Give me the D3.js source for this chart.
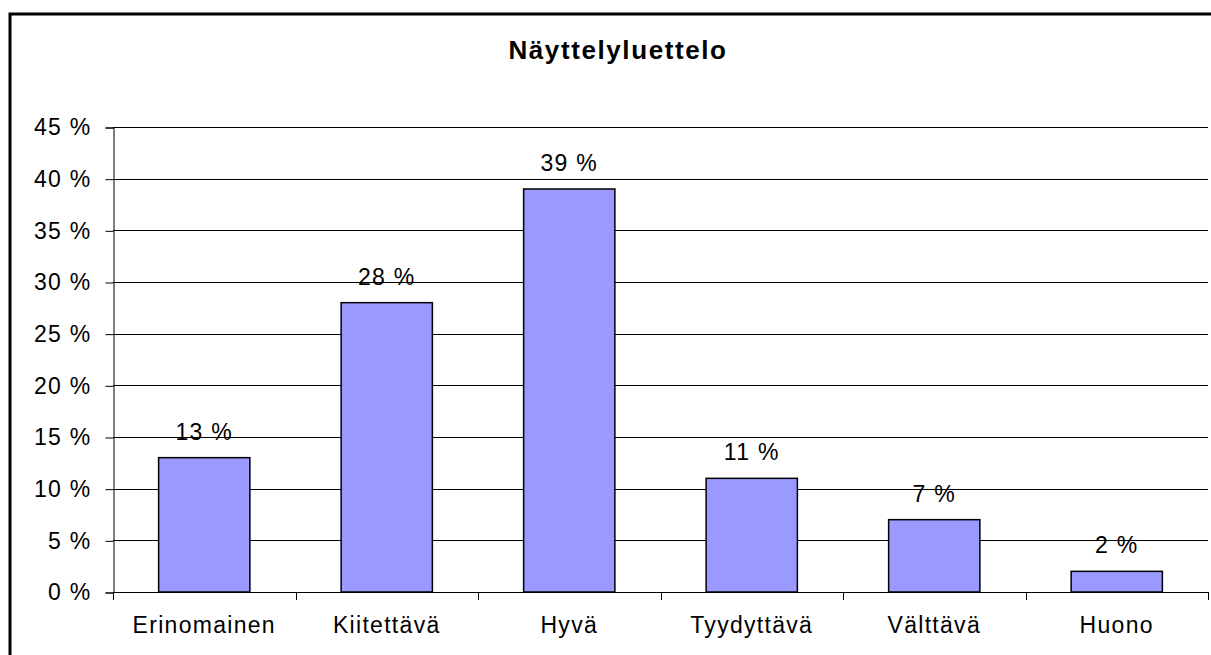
<!DOCTYPE html>
<html>
<head>
<meta charset="utf-8">
<script src="https://cdn.jsdelivr.net/npm/d3@7"></script>
<style>
  body { margin: 0; background: #fff; }
  svg { display: block; font-family: "Liberation Sans", Arial, sans-serif; }
</style>
</head>
<body>
<svg></svg>
<script>
let title = 'Näyttelyluettelo';
let categories = ['Erinomainen', 'Kiitettävä', 'Hyvä', 'Tyydyttävä', 'Välttävä', 'Huono'];
let values = [13, 28, 39, 11, 7, 2];
let yTicks = [0, 5, 10, 15, 20, 25, 30, 35, 40, 45];

let width = 1211;
let height = 655;
let plotLeft = 113;
let plotRight = 1208;
let plotTop = 127;
let plotBottom = 592;

let svg = d3.select('svg')
    .attr('width', width)
    .attr('height', height);

// outer frame (runs past the window on the right and bottom)
svg.append('rect')
    .attr('x', 10)
    .attr('y', 14)
    .attr('width', 1300)
    .attr('height', 800)
    .attr('fill', 'none')
    .attr('stroke', '#000')
    .attr('stroke-width', 3);

svg.append('text')
    .attr('x', 618)
    .attr('y', 59)
    .attr('text-anchor', 'middle')
    .style('font-size', '26px')
    .style('font-weight', 'bold')
    .style('letter-spacing', '1.6px')
    .text(title);

let xScale = d3.scaleBand()
    .domain(categories)
    .range([plotLeft, plotRight])
    .paddingInner(0.5)
    .paddingOuter(0.25);

let yScale = d3.scaleLinear()
    .domain([0, 45])
    .range([plotBottom, plotTop]);

// gridlines
svg.append('g')
    .selectAll('line')
    .data(yTicks.slice(1))
    .enter()
    .append('line')
    .attr('x1', plotLeft)
    .attr('x2', plotRight)
    .attr('y1', (d) => Math.round(yScale(d)) + 0.5)
    .attr('y2', (d) => Math.round(yScale(d)) + 0.5)
    .attr('stroke', '#000')
    .attr('stroke-width', 1);

// y axis
let yAxis = d3.axisLeft(yScale)
    .tickValues(yTicks)
    .tickSize(8)
    .tickPadding(14)
    .tickFormat((d) => d + ' %');

let gy = svg.append('g')
    .attr('transform', `translate(${plotLeft + 0.5}, 0.5)`)
    .call(yAxis);
gy.selectAll('text')
    .style('font-size', '23px')
    .style('letter-spacing', '1.3px')
    .attr('fill', '#000');
gy.selectAll('line, path').attr('stroke', '#000');

// bars
svg.append('g')
    .selectAll('rect')
    .data(values)
    .enter()
    .append('rect')
    .attr('x', (d, i) => xScale(categories[i]))
    .attr('y', (d) => yScale(d))
    .attr('width', xScale.bandwidth())
    .attr('height', (d) => plotBottom - yScale(d))
    .attr('fill', '#9999ff')
    .attr('stroke', '#000')
    .attr('stroke-width', 1.5);

// value labels
svg.append('g')
    .selectAll('text')
    .data(values)
    .enter()
    .append('text')
    .attr('x', (d, i) => xScale(categories[i]) + xScale.bandwidth() / 2)
    .attr('y', (d) => yScale(d) - 18)
    .attr('text-anchor', 'middle')
    .style('font-size', '23px')
    .style('letter-spacing', '1.3px')
    .text((d) => d + ' %');

// x axis: ticks on category boundaries
let step = (plotRight - plotLeft) / categories.length;
let boundaries = d3.range(categories.length + 1).map((i) => plotLeft + i * step);

let gx = svg.append('g');
gx.append('line')
    .attr('x1', plotLeft)
    .attr('x2', plotRight)
    .attr('y1', plotBottom + 0.5)
    .attr('y2', plotBottom + 0.5)
    .attr('stroke', '#000');
gx.selectAll('line.tick')
    .data(boundaries)
    .enter()
    .append('line')
    .attr('class', 'tick')
    .attr('x1', (d) => Math.round(d) + 0.5)
    .attr('x2', (d) => Math.round(d) + 0.5)
    .attr('y1', plotBottom)
    .attr('y2', plotBottom + 8)
    .attr('stroke', '#000');
gx.selectAll('text')
    .data(categories)
    .enter()
    .append('text')
    .attr('x', (d) => xScale(d) + xScale.bandwidth() / 2)
    .attr('y', 633)
    .attr('text-anchor', 'middle')
    .style('font-size', '23px')
    .style('letter-spacing', '1.3px')
    .text((d) => d);
</script>
</body>
</html>
